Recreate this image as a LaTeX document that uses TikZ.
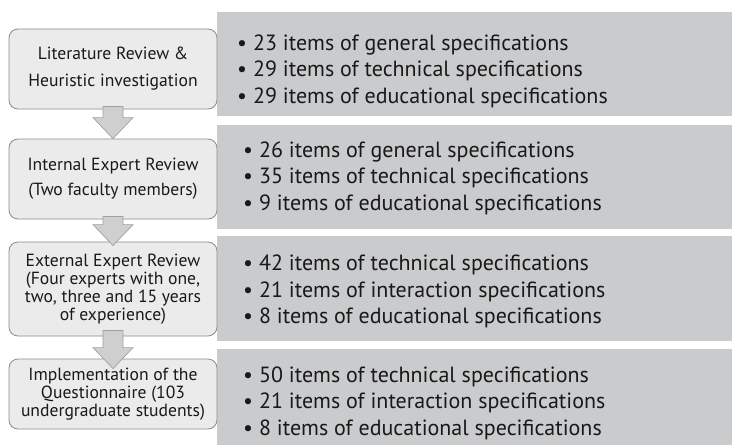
\documentclass[tikz,border=0pt]{standalone}
\usepackage{fontspec}
\setmainfont{PT Sans}
\usetikzlibrary{calc}
\definecolor{specgray}{RGB}{202,203,205}
\definecolor{stagefill}{RGB}{235,235,235}
\definecolor{stageborder}{RGB}{140,140,140}
\definecolor{arrowfill}{RGB}{207,207,207}
\definecolor{arrowborder}{RGB}{160,160,160}
\definecolor{ink}{RGB}{25,25,25}
% #1 start node anchor, #2 end node anchor, #3 shaft start shift (up), #4 tip shift (down)
\newcommand\blkarrow[4]{%
  \draw[barrow] let \p1=(#1), \p2=(#2) in
    (\x1-10pt,\y1+#3) -- (\x1+10pt,\y1+#3) -- (\x1+10pt,\y2-#4+21pt) -- (\x1+20pt,\y2-#4+21pt)
    -- (\x1,\y2-#4) -- (\x1-20pt,\y2-#4+21pt) -- (\x1-10pt,\y2-#4+21pt) -- cycle;}
\begin{document}
\begin{tikzpicture}[x=1pt,y=-1pt,
  spec/.style={fill=specgray, draw=none, anchor=north west, inner sep=0, minimum width=515pt},
  stage/.style={draw=stageborder, fill=stagefill, rounded corners=9pt, line width=0.8pt, align=center,
    text=ink, inner sep=0, minimum width=208pt},
  barrow/.style={fill=arrowfill, draw=arrowborder, line width=0.7pt},
  items/.style={anchor=west, align=left, text=ink, inner sep=0, font=\fontsize{22}{26.5}\selectfont}]
\useasboundingbox (0,0) rectangle (732,445);
% right gray panels
\node[spec, minimum height=104pt] (g1) at (217,12) {};
\node[spec, minimum height=104pt] (g2) at (217,125) {};
\node[spec, minimum height=105pt] (g3) at (217,236) {};
\node[spec, minimum height=96pt] (g4) at (217,349) {};
% stage boxes
\node[stage, minimum height=80pt, font=\fontsize{17.6}{27}\selectfont] (s1) at (113,69)
  {Literature Review \&\\Heuristic investigation};
\node[stage, minimum height=80pt, font=\fontsize{17.6}{25}\selectfont] (s2) at (113,179)
  {Internal Expert Review\\(Two faculty members)};
\node[stage, minimum height=94pt, font=\fontsize{17.6}{18}\selectfont] (s3) at (113,289)
  {External Expert Review\\(Four experts with one,\\two, three and 15 years\\of experience)};
\node[stage, minimum height=70pt, font=\fontsize{17.6}{18}\selectfont] (s4) at (113,394)
  {Implementation of the\\Questionnaire (103\\undergraduate students)};
% block arrows
\blkarrow{s1.south}{s2.north}{3pt}{0pt}
\blkarrow{s2.south}{s3.north}{3pt}{4pt}
\blkarrow{s3.south}{s4.north}{6pt}{10pt}
% item lists
\node[items] (t1) at ($(g1.west)+(20,7)$)
  {\textbullet\ 23 items of general specifications\\\textbullet\ 29 items of technical specifications\\\textbullet\ 29 items of educational specifications};
\node[items] (t2) at ($(g2.west)+(26,1)$)
  {\textbullet\ 26 items of general specifications\\\textbullet\ 35 items of technical specifications\\\textbullet\ 9 items of educational specifications};
\node[items] (t3) at ($(g3.west)+(26,3)$)
  {\textbullet\ 42 items of technical specifications\\\textbullet\ 21 items of interaction specifications\\\textbullet\ 8 items of educational specifications};
\node[items] (t4) at ($(g4.west)+(26,6)$)
  {\textbullet\ 50 items of technical specifications\\\textbullet\ 21 items of interaction specifications\\\textbullet\ 8 items of educational specifications};
\end{tikzpicture}
\end{document}
